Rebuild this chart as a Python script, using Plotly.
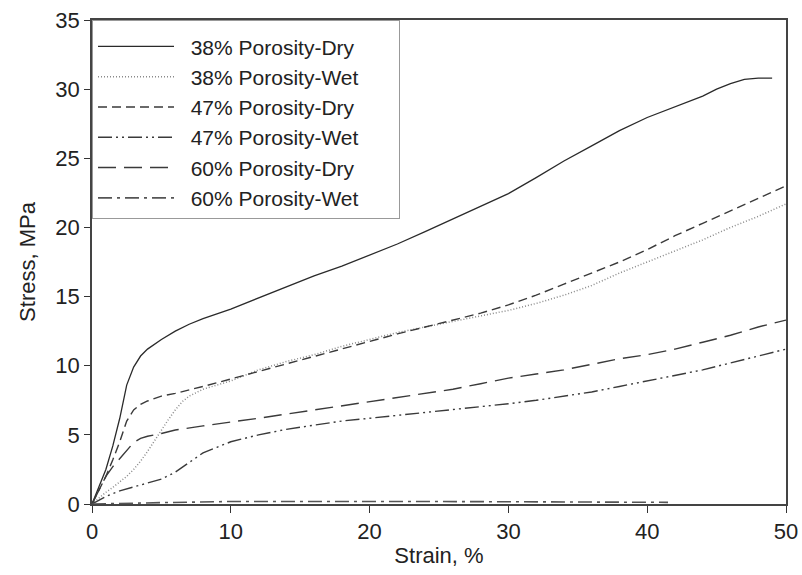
import plotly.graph_objects as go

# ---- data ----
names = ["38% Porosity-Dry", "38% Porosity-Wet", "47% Porosity-Dry",
         "47% Porosity-Wet", "60% Porosity-Dry", "60% Porosity-Wet"]

x_38_dry = [0, 0.5, 1, 1.5, 2, 2.5, 3, 3.5, 4, 5, 6, 7, 8, 10, 12, 14, 16, 18, 20,
            22, 24, 26, 28, 30, 32, 34, 36, 38, 40, 42, 44, 45, 46, 47, 48, 49]
y_38_dry = [0, 1.2, 2.5, 4.2, 6.2, 8.6, 9.9, 10.7, 11.2, 11.9, 12.5, 13.0, 13.4, 14.1,
            14.9, 15.7, 16.5, 17.2, 18.0, 18.8, 19.7, 20.6, 21.5, 22.45, 23.6, 24.8,
            25.9, 27.0, 27.95, 28.75, 29.5, 30.0, 30.4, 30.7, 30.8, 30.8]

x_38_wet = [0, 0.5, 1, 1.5, 2, 2.5, 3, 3.5, 4, 4.5, 5, 5.5, 6, 6.5, 7, 8, 9, 10, 12, 14,
            16, 18, 20, 22, 24, 26, 28, 30, 32, 34, 36, 38, 40, 42, 44, 46, 48, 50]
y_38_wet = [0, 0.45, 0.85, 1.2, 1.6, 2.0, 2.5, 3.1, 3.8, 4.6, 5.3, 6.1, 6.8, 7.4, 7.8,
            8.3, 8.6, 8.9, 9.7, 10.3, 10.8, 11.4, 11.9, 12.4, 12.8, 13.2, 13.6, 14.0,
            14.5, 15.1, 15.8, 16.7, 17.5, 18.3, 19.1, 20.0, 20.8, 21.7]

x_47_dry = [0, 0.5, 1, 1.5, 2, 2.5, 3, 3.5, 4, 5, 6, 8, 10, 12, 14, 16, 18, 20, 22, 24,
            26, 28, 30, 32, 34, 36, 38, 40, 42, 44, 46, 48, 50]
y_47_dry = [0, 1.0, 2.0, 3.2, 4.5, 6.0, 6.8, 7.2, 7.45, 7.8, 8.0, 8.5, 9.05, 9.6, 10.1,
            10.7, 11.2, 11.8, 12.3, 12.8, 13.3, 13.8, 14.4, 15.1, 15.9, 16.7, 17.5,
            18.4, 19.4, 20.3, 21.2, 22.1, 23.0]

x_47_wet = [0, 1, 2, 3, 4, 5, 6, 7, 8, 9, 10, 12, 14, 16, 18, 20, 22, 24, 26, 28, 30,
            32, 34, 36, 38, 40, 42, 44, 46, 48, 50]
y_47_wet = [0, 0.55, 0.95, 1.25, 1.5, 1.8, 2.3, 3.0, 3.7, 4.1, 4.5, 5.0, 5.4, 5.7, 6.0,
            6.2, 6.4, 6.6, 6.8, 7.0, 7.25, 7.5, 7.8, 8.1, 8.5, 8.9, 9.3, 9.7, 10.2,
            10.7, 11.2]

x_60_dry = [0, 0.5, 1, 1.5, 2, 2.5, 3, 3.5, 4, 5, 6, 8, 10, 12, 14, 16, 18, 20, 22, 24,
            26, 28, 30, 32, 34, 36, 38, 40, 42, 44, 46, 48, 50]
y_60_dry = [0, 1.0, 2.0, 2.7, 3.3, 3.9, 4.45, 4.75, 4.9, 5.1, 5.35, 5.65, 5.9, 6.2, 6.5,
            6.8, 7.1, 7.4, 7.7, 8.0, 8.3, 8.7, 9.1, 9.4, 9.7, 10.1, 10.5, 10.8, 11.2,
            11.7, 12.2, 12.8, 13.3]

x_60_wet = [0, 2, 5, 10, 15, 20, 25, 30, 35, 41.5]
y_60_wet = [0, 0.05, 0.1, 0.18, 0.2, 0.18, 0.18, 0.16, 0.15, 0.12]

xs = [x_38_dry, x_38_wet, x_47_dry, x_47_wet, x_60_dry, x_60_wet]
ys = [y_38_dry, y_38_wet, y_47_dry, y_47_wet, y_60_dry, y_60_wet]

x_ticks = [0, 10, 20, 30, 40, 50]
y_ticks = [0, 5, 10, 15, 20, 25, 30, 35]

# ---- styles ----
dashes = ["solid", "1px,2px", "9px,5px", "14px,4px,2px,4px,2px,4px",
          "18px,8px", "14px,5px,3px,5px"]
colors = ["#2a2a2a", "#8a8a8a", "#3a3a3a", "#3a3a3a", "#3a3a3a", "#555555"]
widths = [1.3, 1.5, 1.4, 1.4, 1.4, 1.6]

font_family = "Liberation Sans, Arial, sans-serif"
lead = "\u00a0\u00a0"
trail = "\u00a0" * 6

fig = go.Figure()
for n, x, y, d, c, w in zip(names, xs, ys, dashes, colors, widths):
    fig.add_trace(go.Scatter(x=x, y=y, mode="lines", name=lead + n + trail,
                             line=dict(color=c, width=w, dash=d)))

fig.update_layout(
    width=802, height=575,
    margin=dict(l=92, r=16, t=20, b=71),
    paper_bgcolor="white", plot_bgcolor="white",
    font=dict(family=font_family, size=20, color="#222"),
    showlegend=True,
    legend=dict(x=0, y=1, xanchor="left", yanchor="top",
                bgcolor="white", bordercolor="#999", borderwidth=1,
                font=dict(size=21, color="#222"), itemwidth=76,
                tracegroupgap=0,
                title=dict(text="\u00a0", font=dict(size=4))),
)
fig.update_xaxes(range=[0, 50], tickvals=x_ticks, ticks="outside", ticklen=7,
                 tickcolor="#333", showgrid=False, zeroline=False, automargin=False,
                 showline=True, linecolor="#444", linewidth=1.5, mirror=True,
                 ticklabeloverflow="allow",
                 title=dict(text="Strain, %", font=dict(size=22), standoff=4),
                 tickfont=dict(size=22))
fig.update_yaxes(range=[0, 35], tickvals=y_ticks, ticks="outside", ticklen=6,
                 tickcolor="#333", showgrid=False, zeroline=False, automargin=False,
                 showline=True, linecolor="#444", linewidth=1.5, mirror=True,
                 ticklabeloverflow="allow",
                 title=dict(text="Stress, MPa", font=dict(size=22), standoff=14),
                 tickfont=dict(size=22))

fig.write_html("out.html",
               config={"displayModeBar": False},
               post_script="document.body.style.margin='0';"
                           "document.body.style.overflow='hidden';")
